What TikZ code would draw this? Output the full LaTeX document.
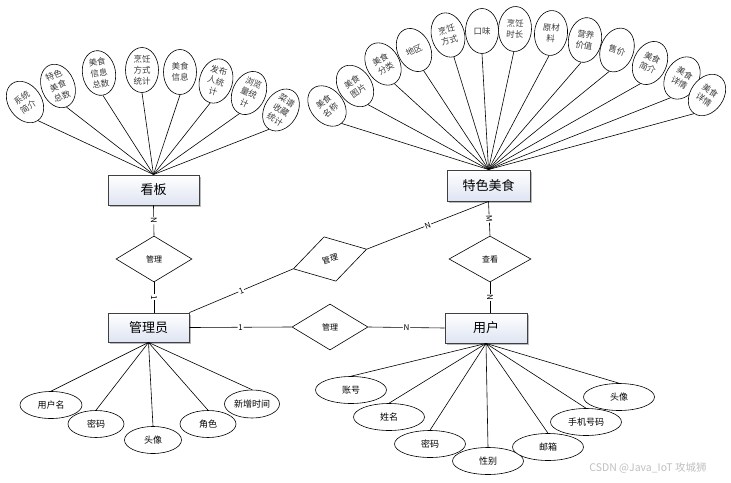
\documentclass[tikz,border=0pt]{standalone}
\usepackage{fontspec}
\setmainfont{Noto Sans CJK SC}
\usetikzlibrary{shapes.geometric,shadows}
\definecolor{entfill}{RGB}{222,228,242}
\definecolor{ttxt}{RGB}{60,60,60}
\tikzset{
  ent/.style={rectangle, draw=black!75, line width=0.9pt, top color=white, bottom color=entfill,
    drop shadow={shadow xshift=1.5pt, shadow yshift=-1.5pt, opacity=0.45, fill=black!60},
    inner sep=0pt, font=\fontsize{13}{15}\selectfont},
  rel/.style={diamond, draw=black, line width=0.6pt, fill=white, inner sep=0pt,
    minimum width=76pt, minimum height=46pt, font=\fontsize{8}{10}\selectfont},
  attr/.style={ellipse, draw=black, line width=0.6pt, fill=white, inner sep=0pt,
    minimum width=71pt, minimum height=27pt, font=\fontsize{9}{11}\selectfont},
  tattr/.style={ellipse, draw=black, line width=0.6pt, fill=white, inner sep=0pt,
    minimum width=33pt, minimum height=45pt, align=center, text=ttxt,
    font=\fontsize{8.5}{11}\selectfont},
  lbl/.style={fill=white, inner sep=0.8pt, sloped, font=\fontsize{8}{9}\selectfont},
  conn/.style={draw=black, line width=0.6pt},
}
\begin{document}
\begin{tikzpicture}[x=1pt,y=-1pt]
\useasboundingbox (0,0) rectangle (731,482);
% entities
\node[ent, minimum width=91pt, minimum height=30pt] (kb) at (153.5,190) {看板};
\node[ent, minimum width=81pt, minimum height=29pt] (adm) at (148.5,327.5) {管理员};
\node[ent, minimum width=83pt, minimum height=31pt] (food) at (488.5,185.5) {特色美食};
\node[ent, minimum width=82pt, minimum height=30pt] (usr) at (486,328) {用户};
% relations
\node[rel] (r1) at (154,259) {管理};
\node[rel, minimum width=82pt] (r2) at (490,259) {查看};
\node[rel] (r3) at (330,327) {管理};
\node[rel, rotate=15] (r4) at (330,259) {管理};
% relation connectors
\draw[conn] (kb.south) -- node[lbl] {N} (r1.north);
\draw[conn] (r1.south) -- node[lbl] {1} (r1.south |- adm.north);
\draw[conn] (adm.north east) -- node[lbl] {1} (r4.west);
\draw[conn] (r4.east) -- node[lbl] {N} (food.south);
\draw[conn] (adm.east) -- node[lbl] {1} (r3.west);
\draw[conn] (r3.east) -- node[lbl] {N} (usr.west);
\draw[conn] (food.south) -- node[lbl] {M} (r2.north);
\draw[conn] (r2.south) -- node[lbl] {N} (r2.south |- usr.north);
% kanban attributes
\node[tattr, rotate=35] (k1) at (25,102) {系统\\简介};
\node[tattr, rotate=22] (k2) at (58,86) {特色\\美食\\总数};
\node[tattr, rotate=10] (k3) at (99,73) {美食\\信息\\总数};
\node[tattr] (k4) at (142,70) {烹饪\\方式\\统计};
\node[tattr] (k5) at (180,72) {美食\\信息};
\node[tattr, rotate=-15] (k6) at (216,81) {发布\\人统\\计};
\node[tattr, rotate=-25] (k7) at (249,93) {浏览\\量统\\计};
\node[tattr, rotate=-32] (k8) at (281,110) {菜谱\\收藏\\统计};
\foreach \n in {k1,k2,k3,k4,k5,k6,k7,k8} \draw[conn] (kb.north) -- (\n.south);
% food attributes
\node[tattr, rotate=40] (f1) at (327,106) {美食\\名称};
\node[tattr, rotate=35] (f2) at (355,86) {美食\\图片};
\node[tattr, rotate=30] (f3) at (383,64) {美食\\分类};
\node[tattr, rotate=25] (f4) at (414,50) {地区};
\node[tattr, rotate=15] (f5) at (448,35) {烹饪\\方式};
\node[tattr] (f6) at (482,31) {口味};
\node[tattr, rotate=-3] (f7) at (515,29) {烹饪\\时长};
\node[tattr, rotate=-5] (f8) at (551,33) {原材\\料};
\node[tattr, rotate=-10] (f9) at (585,40) {营养\\价值};
\node[tattr, rotate=-20] (f10) at (617,50) {售价};
\node[tattr, rotate=-25] (f11) at (650,63) {美食\\简介};
\node[tattr, rotate=-30] (f12) at (682,78) {美食\\详情};
\node[tattr, rotate=-35] (f13) at (707,95) {美食\\详情};
\foreach \n in {f1,f2,f3,f4,f5,f6,f7,f8,f9,f10,f11,f12,f13} \draw[conn] (food.north) -- (\n.south);
% admin attributes
\node[attr, minimum width=62pt] (a1) at (51,405) {用户名};
\node[attr, minimum width=56pt] (a2) at (96,424) {密码};
\node[attr, minimum width=57pt] (a3) at (153,440) {头像};
\node[attr, minimum width=56pt] (a4) at (208,424) {角色};
\node[attr, minimum width=55pt, minimum height=28pt] (a5) at (252,404) {新增时间};
\foreach \n in {a1,a2,a3,a4,a5} \draw[conn] (adm.south) -- (\n.north);
% user attributes
\node[attr] (u1) at (351,390) {账号};
\node[attr] (u2) at (389,417) {姓名};
\node[attr] (u3) at (430,444) {密码};
\node[attr] (u4) at (488,461) {性别};
\node[attr] (u5) at (548,447) {邮箱};
\node[attr] (u6) at (586,422) {手机号码};
\node[attr] (u7) at (619,397) {头像};
\foreach \n in {u1,u2,u3,u4,u5,u6,u7} \draw[conn] (usr.south) -- (\n.north);
% watermark
\node[text=black!25, font=\fontsize{10.5}{12}\selectfont, inner sep=0pt] (wm) at (648,468) {CSDN @Java\_IoT 攻城狮};
\end{tikzpicture}
\end{document}
